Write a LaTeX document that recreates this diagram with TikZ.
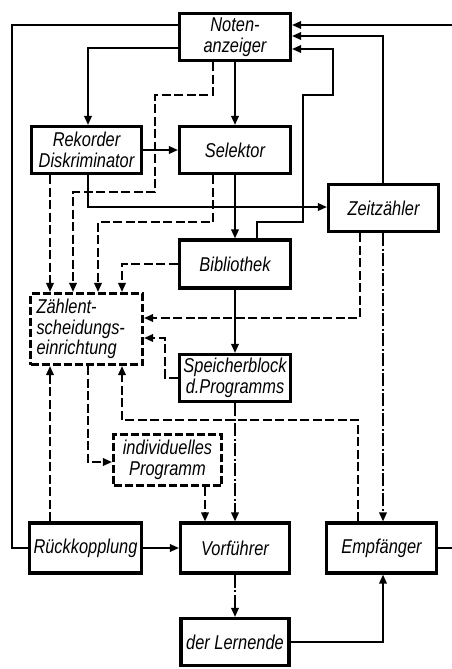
\documentclass[tikz,border=0pt]{standalone}
\usepackage{fontspec}
\setmainfont{Liberation Sans}[FakeStretch=0.82]
\usetikzlibrary{arrows.meta}
\begin{document}
\begin{tikzpicture}[x=1pt,y=-1pt,
  blk/.style={draw, line width=3.1pt, inner sep=1pt, align=center,
    font=\itshape\fontsize{20}{20.5}\selectfont},
  dblk/.style={blk, dash pattern=on 8pt off 3pt},
  conn/.style={line width=1.7pt},
  arr/.style={-{Triangle[length=9pt,width=7.5pt]}},
  dsh/.style={dash pattern=on 9pt off 3.5pt},
  dshdot/.style={dash pattern=on 13pt off 2.5pt on 2pt off 2.5pt}]
\useasboundingbox (0,0) rectangle (452,669);
\clip (0,0) rectangle (452,669);
% nodes
\node[blk, minimum width=111pt, minimum height=47pt] (noten) at (235,37) {Noten-\\anzeiger};
\node[blk, minimum width=110pt, minimum height=47pt] (rek) at (86.5,150) {Rekorder\\Diskriminator};
\node[blk, minimum width=111pt, minimum height=47pt] (sel) at (235,150) {Selektor};
\node[blk, minimum width=110pt, minimum height=47pt] (zeit) at (383.5,208) {Zeitzähler};
\node[blk, minimum width=111pt, minimum height=48pt] (bib) at (235,264) {Bibliothek};
\node[dblk, minimum width=112pt, minimum height=71pt, text width=100pt, align=left] (zae) at (86.5,329) {Zählent-\\scheidungs-\\einrichtung};
\node[blk, minimum width=111pt, minimum height=47pt] (spe) at (235,378) {Speicherblock\\d.Programms};
\node[dblk, minimum width=108pt, minimum height=51pt] (ind) at (167.5,460) {individuelles\\Programm};
\node[blk, minimum width=112pt, minimum height=50pt] (rueck) at (85.5,548) {Rückkopplung};
\node[blk, minimum width=109pt, minimum height=50pt] (vor) at (235,548) {Vorführer};
\node[blk, minimum width=110pt, minimum height=50pt] (emp) at (381.5,548) {Empfänger};
\node[blk, minimum width=108pt, minimum height=47pt] (ler) at (235,642) {der Lernende};
% coordinates
\coordinate (tl) at (12,25);
\coordinate (tr) at (460,25);
\coordinate (z1) at (383,36);
\coordinate (b1) at (257,222);
\coordinate (b2) at (303,95);
\coordinate (b3) at (333,49);
\coordinate (n1) at (88,48);
\coordinate (g1) at (213,95);
\coordinate (g2) at (155,192);
\coordinate (g3) at (73,192);
\coordinate (x50) at (50,0);
\coordinate (j1) at (88,207);
\coordinate (l1) at (213,222);
\coordinate (l2) at (98,222);
\coordinate (m1) at (122,264);
\coordinate (o1) at (360,318);
\coordinate (p1) at (383,0);
\coordinate (q2) at (165,338);
\coordinate (s1) at (358,420);
\coordinate (s2) at (122,420);
\coordinate (t1) at (88,462);
\coordinate (u1) at (205,0);
% solid connectors
\draw[conn] (rueck.west) -| (tl) -- (tl -| noten.west);
\draw[conn,arr] (emp.east) -| (tr) -- (tr -| noten.east);
\draw[conn,arr] (zeit.north -| z1) |- (z1 -| noten.east);
\draw[conn,arr] (bib.north -| b1) -- (b1) -| (b2) -| (b3) -- (b3 -| noten.east);
\draw[conn,arr] (noten.west |- n1) -| (rek.north -| n1);
\draw[conn,arr] (noten.south) -- (sel.north);
\draw[conn,arr] (rek.east) -- (sel.west);
\draw[conn,arr] (rek.south -| j1) |- (zeit.west |- j1);
\draw[conn,arr] (sel.south) -- (bib.north);
\draw[conn,arr] (bib.south) -- (spe.north);
\draw[conn,arr] (rueck.east) -- (vor.west);
\draw[conn,arr] (ler.east) -| (emp.south -| p1);
% dashed connectors
\draw[conn,arr,dsh] (noten.south -| g1) -- (g1) -| (g2) -- (g3) -- (zae.north -| g3);
\draw[conn,arr,dsh] (rek.south -| x50) -- (zae.north -| x50);
\draw[conn,arr,dsh] (sel.south -| l1) -- (l1) -- (l2) -- (zae.north -| l2);
\draw[conn,arr,dsh] (bib.west) -| (zae.north -| m1);
\draw[conn,arr,dsh] (zeit.south -| o1) |- (zae.east |- o1);
\draw[conn,arr,dsh] (spe.west) -| (q2) -- (zae.east |- q2);
\draw[conn,arr,dsh] (emp.north -| s1) -- (s1) -- (s2) -- (zae.south -| s2);
\draw[conn,arr,dsh] (zae.south -| t1) |- (ind.west |- t1);
\draw[conn,arr,dsh] (ind.south -| u1) -- (vor.north -| u1);
\draw[conn,arr,dsh] (rueck.north -| x50) -- (zae.south -| x50);
% dash-dot connectors
\draw[conn,arr,dshdot] (zeit.south -| p1) -- (emp.north -| p1);
\draw[conn,arr,dshdot] (spe.south) -- (vor.north);
\draw[conn,arr,dshdot] (vor.south) -- (ler.north);
\end{tikzpicture}
\end{document}
